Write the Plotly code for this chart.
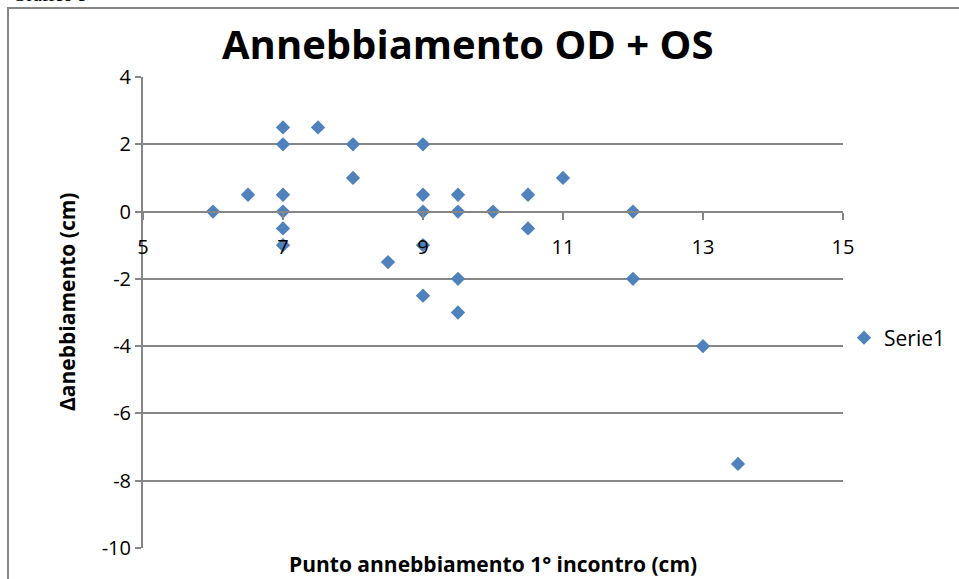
import plotly.graph_objects as go

x_vals = [6, 6.5, 7, 7, 7, 7, 7, 7, 7.5, 8, 8, 8.5, 9, 9, 9, 9, 9, 9.5, 9.5, 9.5, 9.5, 10, 10.5, 10.5, 11, 12, 12, 13, 13.5]
y_vals = [0, 0.5, 2.5, 2, 0.5, 0, -0.5, -1, 2.5, 2, 1, -1.5, 2, 0.5, 0, -1, -2.5, 0.5, 0, -2, -3, 0, 0.5, -0.5, 1, 0, -2, -4, -7.5]
x_ticks = [5, 7, 9, 11, 13, 15]
y_ticks = [-10, -8, -6, -4, -2, 0, 2, 4]
y_tick_labels = ["-10", "-8", "-6", "-4", "-2", "0", "2", "4"]
series_name = "Serie1"
title_text = "Annebbiamento OD + OS"
x_title = "Punto annebbiamento 1° incontro (cm)"
y_title = "Δanebbiamento (cm)"
header_text = "Grafico 9"

W, H = 959, 579
L, R, T, B = 143, 116, 77, 31
PW, PH = W - L - R, H - T - B

def px_x(p):
    return (p - L) / PW

def px_y(p):
    return 1 - (p - T) / PH

fig = go.Figure()
fig.add_trace(go.Scatter(
    x=x_vals, y=y_vals, mode="markers", name=series_name,
    marker=dict(symbol="diamond", size=11, color="#4F81BD"),
))

font = "Open Sans"
fig.update_layout(
    width=W, height=H,
    margin=dict(l=L, r=R, t=T, b=B, autoexpand=False),
    paper_bgcolor="white", plot_bgcolor="white",
    showlegend=True,
    legend=dict(x=px_x(844), y=px_y(338), xanchor="left", yanchor="middle",
                font=dict(family=font, size=21, color="black"),
                itemwidth=30, bgcolor="rgba(0,0,0,0)"),
    xaxis=dict(range=[5, 15], tickvals=x_ticks, ticktext=[str(v) for v in x_ticks],
               showgrid=False, zeroline=False, showline=True, linecolor="#868686", linewidth=2,
               ticks="outside", ticklen=7, tickcolor="#868686", tickwidth=1.5,
               anchor="free", position=10 / 14, ticklabelstandoff=10,
               tickfont=dict(family=font, size=20, color="black")),
    yaxis=dict(range=[-10, 4], tickvals=y_ticks, ticktext=y_tick_labels,
               showgrid=True, gridcolor="#868686", gridwidth=2,
               zeroline=False, showline=True, linecolor="#868686", linewidth=2,
               ticks="outside", ticklen=6, tickcolor="#868686", tickwidth=2,
               tickfont=dict(family=font, size=20, color="black")),
)

fig.add_annotation(text="<b>" + title_text + "</b>", xref="paper", yref="paper",
                   x=px_x(467), y=px_y(43), xanchor="center", yanchor="middle", showarrow=False,
                   font=dict(family=font, size=40, color="black"))
fig.add_annotation(text="<b>" + x_title + "</b>", xref="paper", yref="paper",
                   x=px_x(493), y=px_y(564), xanchor="center", yanchor="middle", showarrow=False,
                   font=dict(family=font, size=21, color="black"))
fig.add_annotation(text="<b>" + y_title + "</b>", xref="paper", yref="paper",
                   x=px_x(67), y=px_y(302), xanchor="center", yanchor="middle", showarrow=False,
                   textangle=-90, font=dict(family=font, size=21, color="black"))
fig.add_annotation(text=header_text, xref="paper", yref="paper",
                   x=px_x(10), y=px_y(-6), xanchor="left", yanchor="middle", showarrow=False,
                   font=dict(family="Liberation Serif", size=20, color="black"))
fig.add_shape(type="rect", xref="paper", yref="paper",
              x0=px_x(8), y0=px_y(620), x1=px_x(1010), y1=px_y(8),
              line=dict(color="#868686", width=2), fillcolor="rgba(0,0,0,0)", layer="below")

fig.write_html("out.html", config={"displayModeBar": False},
               post_script="document.body.style.margin='0';document.body.style.overflow='hidden';")
